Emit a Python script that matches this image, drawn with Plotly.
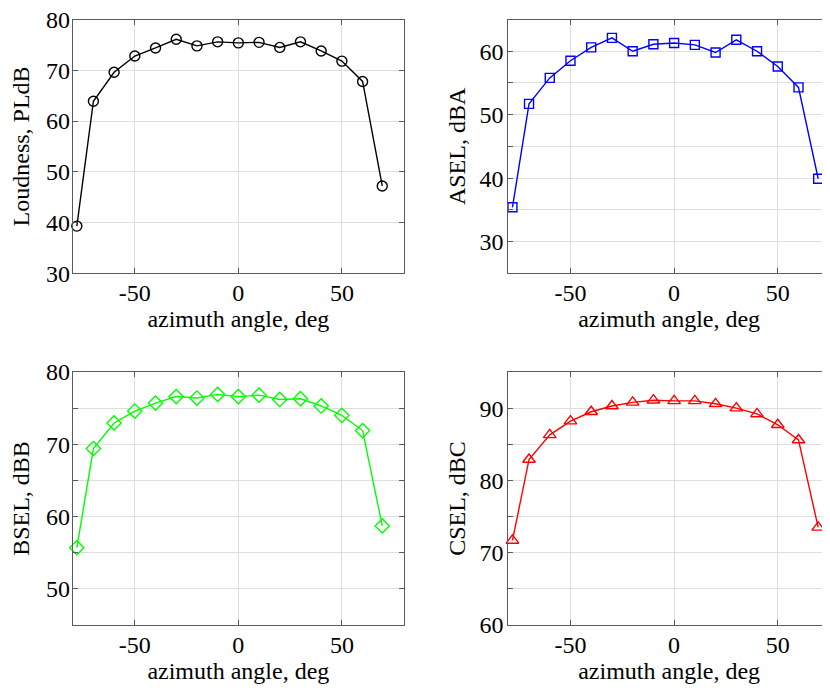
import plotly.graph_objects as go

azimuth = [-78, -70, -60, -50, -40, -30, -20, -10, 0, 10, 20, 30, 40, 50, 60, 69.5]

loudness_pldb = [39.3, 63.9, 69.6, 72.8, 74.4, 76.1, 74.8, 75.6, 75.4, 75.5, 74.5, 75.6, 73.8, 71.8, 67.8, 47.2]
asel_dba = [35.4, 51.7, 55.8, 58.5, 60.6, 62.1, 60.0, 61.1, 61.3, 61.0, 59.8, 61.8, 60.0, 57.6, 54.3, 39.9]
bsel_dbb = [55.7, 69.4, 72.95, 74.6, 75.7, 76.6, 76.4, 76.9, 76.6, 76.8, 76.2, 76.3, 75.3, 74.0, 71.9, 58.7]
csel_dbc = [71.7, 82.9, 86.3, 88.2, 89.5, 90.3, 90.8, 91.1, 91.0, 91.0, 90.6, 90.0, 89.2, 87.7, 85.6, 73.5]

x_ticks = [-50, 0, 50]
x_title = "azimuth angle, deg"

y1_ticks = [30, 40, 50, 60, 70, 80]
y1_text = ["30", "40", "50", "60", "70", "80"]
y2_ticks = [25, 30, 35, 40, 45, 50, 55, 60, 65]
y2_text = ["", "30", "", "40", "", "50", "", "60", ""]
y3_ticks = [45, 50, 55, 60, 65, 70, 75, 80]
y3_text = ["", "50", "", "60", "", "70", "", "80"]
y4_ticks = [60, 65, 70, 75, 80, 85, 90, 95]
y4_text = ["60", "", "70", "", "80", "", "90", ""]

# the page body adds an 8px margin; lay out in page pixels minus that offset
OFF = 8
W, H = 830 - OFF, 688 - OFF
FONT = "Liberation Serif, Times New Roman, serif"
AX = "#5a5a5a"
GRID = "#dedede"


def px_x(a, b):
    return [(a - OFF) / W, min((b - OFF) / W, 1.0)]


def px_y(top, bottom):
    return [1 - (bottom - OFF) / H, 1 - (top - OFF) / H]


fig = go.Figure()

series = [
    (loudness_pldb, "black", "circle-open", 10, "x", "y"),
    (asel_dba, "#0000ff", "square-open", 9, "x2", "y2"),
    (bsel_dbb, "#00ff00", "diamond-open", 11, "x3", "y3"),
    (csel_dbc, "#ff0000", "triangle-up-open", 11, "x4", "y4"),
]
for vals, col, sym, sz, xa, ya in series:
    fig.add_trace(go.Scatter(
        x=azimuth, y=vals, mode="lines+markers", xaxis=xa, yaxis=ya,
        line=dict(color=col, width=1.4),
        marker=dict(symbol=sym, size=sz, color=col, line=dict(color=col, width=1.4)),
        cliponaxis=False, showlegend=False,
    ))


def xaxis(domain, rng, anchor, mirror):
    return dict(
        domain=domain, range=rng, anchor=anchor, automargin=False,
        tickvals=x_ticks, ticktext=[str(v) for v in x_ticks],
        ticks="inside", ticklen=5, tickcolor=AX, tickwidth=1,
        showline=True, linecolor=AX, linewidth=1, mirror=mirror,
        showgrid=True, gridcolor=GRID, gridwidth=1, zeroline=False,
        tickfont=dict(family=FONT, size=24, color="black"),
        ticklabelstandoff=-2, ticklabeloverflow="allow",
        title=dict(text=x_title, font=dict(family=FONT, size=24, color="black"), standoff=0),
    )


def yaxis(domain, rng, anchor, tv, tt, title, mirror, lso):
    return dict(
        domain=domain, range=rng, anchor=anchor, automargin=False,
        tickvals=tv, ticktext=tt,
        ticks="inside", ticklen=5, tickcolor=AX, tickwidth=1,
        showline=True, linecolor=AX, linewidth=1, mirror=mirror,
        showgrid=True, gridcolor=GRID, gridwidth=1, zeroline=False,
        tickfont=dict(family=FONT, size=24, color="black"),
        ticklabelstandoff=lso, ticklabeloverflow="allow",
        title=dict(text=title, font=dict(family=FONT, size=24, color="black"), standoff=6 - lso),
    )


left_x = px_x(72.7, 404)
right_x = px_x(508.3, 830)
top_y = px_y(19.5, 273.3)
bot_y = px_y(372, 625)

fig.update_layout(
    width=W, height=H,
    margin=dict(l=0, r=0, t=0, b=0, autoexpand=False),
    paper_bgcolor="white", plot_bgcolor="white",
    font=dict(family=FONT, size=24, color="black"),
    xaxis=xaxis(left_x, [-80, 80], "y", "ticks"),
    yaxis=yaxis(top_y, [30, 80], "x", y1_ticks, y1_text, "Loudness, PLdB", "ticks", -3),
    xaxis2=xaxis(right_x, [-80, 75.2], "y2", "ticks"),
    yaxis2=yaxis(top_y, [25, 65], "x2", y2_ticks, y2_text, "ASEL, dBA", False, -1),
    xaxis3=xaxis(left_x, [-80, 80], "y3", "ticks"),
    yaxis3=yaxis(bot_y, [45, 80], "x3", y3_ticks, y3_text, "BSEL, dBB", "ticks", -3),
    xaxis4=xaxis(right_x, [-80, 75.2], "y4", "ticks"),
    yaxis4=yaxis(bot_y, [60, 95], "x4", y4_ticks, y4_text, "CSEL, dBC", False, -1),
)

fig.write_html("out.html")
